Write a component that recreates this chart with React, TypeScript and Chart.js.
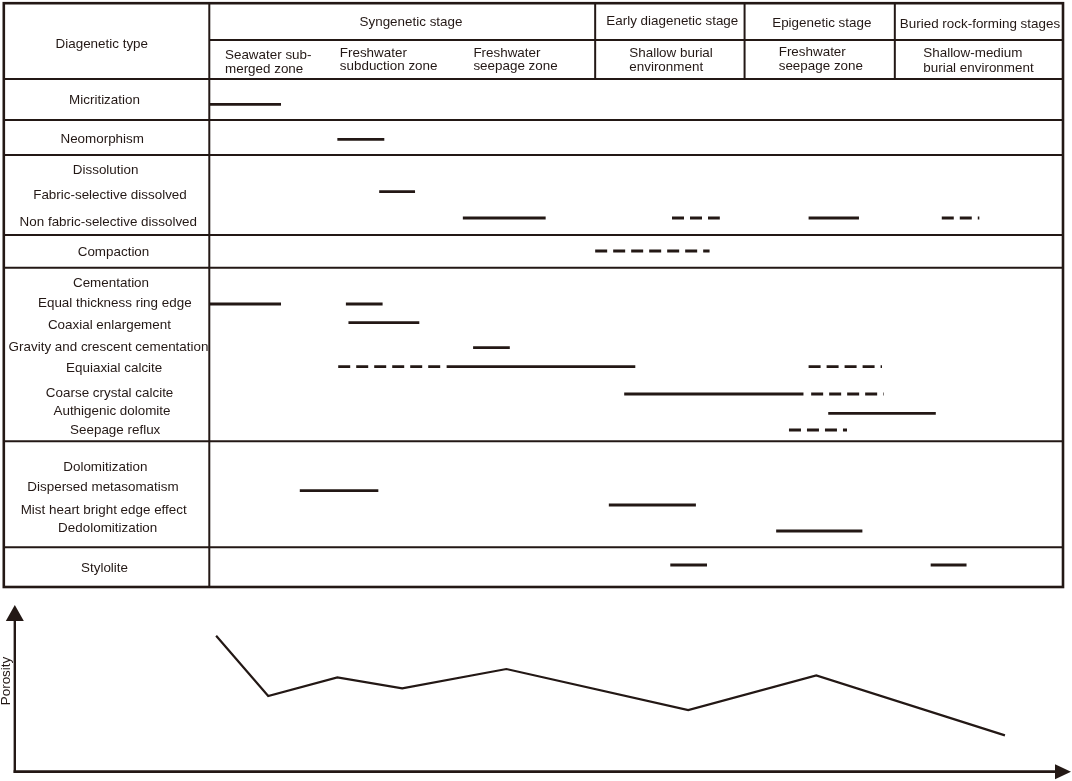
import React, { useEffect, useRef } from "react";
import { Chart, registerables } from "chart.js";

Chart.register(...registerables);

const INK = "#231815";
const FONT = '12.6px "Liberation Sans", Arial, sans-serif';
const TEXT_SX = 1.065;

// ---- Data (timeline units 0–100 across the stage columns) ----
const stageNames = ["Syngenetic stage", "Early diagenetic stage", "Epigenetic stage", "Buried rock-forming stages"];
const stageBounds = [0, 45.2, 62.7, 80.3, 100];
const zoneNames = [
  ["Seawater sub-", "merged zone"],
  ["Freshwater", "subduction zone"],
  ["Freshwater", "seepage zone"],
  ["Shallow burial", "environment"],
  ["Freshwater", "seepage zone"],
  ["Shallow-medium", "burial environment"],
];
const rowLabels = [
  "Micritization", "Neomorphism", "Dissolution", "Fabric-selective dissolved",
  "Non fabric-selective dissolved", "Compaction", "Cementation", "Equal thickness ring edge",
  "Coaxial enlargement", "Gravity and crescent cementation", "Equiaxial calcite",
  "Coarse crystal calcite", "Authigenic dolomite", "Seepage reflux", "Dolomitization",
  "Dispersed metasomatism", "Mist heart bright edge effect", "Dedolomitization", "Stylolite",
];
const processNames = [
  "Micritization", "Neomorphism", "Fabric-selective dissolved", "Non fabric-selective dissolved",
  "Compaction", "Equal thickness ring edge", "Coaxial enlargement", "Gravity and crescent cementation",
  "Equiaxial calcite", "Coarse crystal calcite", "Authigenic dolomite", "Seepage reflux",
  "Dispersed metasomatism", "Mist heart bright edge effect", "Dedolomitization", "Stylolite",
];
const segProcess = [0, 1, 2, 3, 3, 3, 3, 4, 5, 5, 6, 7, 8, 8, 8, 9, 9, 10, 11, 12, 13, 14, 15, 15];
const segStart = [0, 15.0, 19.9, 29.7, 54.2, 70.2, 85.8, 45.2, 0, 16.0, 16.3, 30.9, 15.1, 27.8, 70.2, 48.6, 70.5, 72.5, 67.9, 10.6, 46.8, 66.4, 54.0, 84.5];
const segEnd = [8.4, 20.5, 24.1, 39.4, 59.8, 76.1, 90.2, 58.6, 8.4, 20.3, 24.6, 35.2, 27.6, 49.9, 78.8, 69.6, 79.0, 85.1, 74.7, 19.8, 57.0, 76.5, 58.3, 88.7];
const segDashed = [0, 0, 0, 0, 1, 0, 1, 1, 0, 0, 0, 0, 1, 0, 1, 0, 1, 0, 1, 0, 0, 0, 0, 0];

const porosityX = [0.8, 6.9, 15.0, 22.6, 34.8, 56.1, 71.1, 93.2];
const porosityY = [8.16, 4.54, 5.66, 5.0, 6.16, 3.7, 5.78, 2.18];

// ---- Layout (pixels) ----
const PAD_LEFT = 209.3;
const PAD_RIGHT = 9;
const TABLE_H = 590;
const processLineY = [104.3, 139.3, 191.7, 218, 251, 304, 322.7, 347.7, 366.7, 394, 413.3, 430, 490.7, 505, 531, 565];
const rowLabelX = [104.5, 102.2, 105.6, 110, 108.3, 113.5, 111, 114.8, 109.4, 108.5, 114.2, 109.6, 112, 115.2, 105.4, 103, 103.7, 107.7, 104.5];
const rowLabelY = [100.5, 139.5, 170.7, 195.7, 222.3, 252.7, 284, 304, 326, 347.7, 369, 393.3, 411.7, 430.3, 467.7, 487.3, 510.3, 529, 569];
const stageLabelX = [411, 672.3, 821.8, 980];
const stageLabelY = [22.5, 21.7, 24, 25];
const zoneLabelX = [225, 339.8, 473.4, 629.3, 778.7, 923.3];
const zoneLabelY = [[55.8, 69.7], [53.3, 66.7], [53.3, 66.7], [54, 68], [52.7, 66.7], [54, 68.3]];
const TABLE_TOP = 3.2;
const TABLE_LEFT = 3.8;
const TABLE_BOTTOM = 587;
const HEADER_MID = 40;
const HEADER_BOTTOM = 79;
const rowBounds = [120, 155, 235, 267.7, 441.3, 547.3];

function drawText(ctx: CanvasRenderingContext2D, text: string, x: number, y: number) {
  ctx.save();
  ctx.translate(x, y);
  ctx.scale(TEXT_SX, 1);
  ctx.fillText(text, 0, 0);
  ctx.restore();
}

export default function App() {
  const topRef = useRef<HTMLCanvasElement>(null);
  const botRef = useRef<HTMLCanvasElement>(null);

  useEffect(() => {
    const tableGrid = {
      id: "tableGrid",
      afterDraw(chart: any) {
        const ctx = chart.ctx as CanvasRenderingContext2D;
        const xs = chart.scales.x;
        const left = xs.getPixelForValue(0);
        const right = xs.getPixelForValue(100);
        ctx.save();
        ctx.strokeStyle = INK;
        ctx.lineCap = "butt";
        ctx.lineWidth = 2;
        const hline = (y: number, x1: number, x2: number) => {
          ctx.beginPath(); ctx.moveTo(x1, y); ctx.lineTo(x2, y); ctx.stroke();
        };
        const vline = (x: number, y1: number, y2: number) => {
          ctx.beginPath(); ctx.moveTo(x, y1); ctx.lineTo(x, y2); ctx.stroke();
        };
        hline(HEADER_MID, left, right);
        hline(HEADER_BOTTOM, TABLE_LEFT, right);
        rowBounds.forEach((y) => hline(y, TABLE_LEFT, right));
        vline(left, TABLE_TOP, TABLE_BOTTOM);
        for (let i = 1; i < stageBounds.length - 1; i++) {
          vline(xs.getPixelForValue(stageBounds[i]), TABLE_TOP, HEADER_BOTTOM);
        }
        ctx.lineWidth = 2.6;
        ctx.strokeRect(TABLE_LEFT, TABLE_TOP, right - TABLE_LEFT, TABLE_BOTTOM - TABLE_TOP);

        ctx.fillStyle = INK;
        ctx.font = FONT;
        ctx.textBaseline = "middle";
        ctx.textAlign = "center";
        drawText(ctx, "Diagenetic type", 101.8, 44.5);
        stageNames.forEach((s, i) => drawText(ctx, s, stageLabelX[i], stageLabelY[i]));
        rowLabels.forEach((s, i) => drawText(ctx, s, rowLabelX[i], rowLabelY[i]));
        ctx.textAlign = "left";
        zoneNames.forEach((lines, i) => {
          lines.forEach((t, j) => drawText(ctx, t, zoneLabelX[i], zoneLabelY[i][j]));
        });
        ctx.restore();
      },
    };

    const porosityAxes = {
      id: "porosityAxes",
      afterDraw(chart: any) {
        const ctx = chart.ctx as CanvasRenderingContext2D;
        const { top, bottom } = chart.chartArea;
        const x0 = 14.8;
        ctx.save();
        ctx.strokeStyle = INK;
        ctx.fillStyle = INK;
        ctx.lineWidth = 2.4;
        ctx.beginPath();
        ctx.moveTo(x0, bottom + 1.2);
        ctx.lineTo(x0, top + 12);
        ctx.stroke();
        ctx.beginPath();
        ctx.moveTo(x0, top);
        ctx.lineTo(x0 - 9, top + 16);
        ctx.lineTo(x0 + 9, top + 16);
        ctx.closePath();
        ctx.fill();
        ctx.lineWidth = 2.8;
        ctx.beginPath();
        ctx.moveTo(x0 - 1.2, bottom);
        ctx.lineTo(1058, bottom);
        ctx.stroke();
        ctx.beginPath();
        ctx.moveTo(1071, bottom);
        ctx.lineTo(1055, bottom - 7.5);
        ctx.lineTo(1055, bottom + 7.5);
        ctx.closePath();
        ctx.fill();
        ctx.font = FONT;
        ctx.textAlign = "center";
        ctx.textBaseline = "middle";
        ctx.translate(7, 91);
        ctx.rotate(-Math.PI / 2);
        drawText(ctx, "Porosity", 0, 0);
        ctx.restore();
      },
    };

    const c1 = new Chart(topRef.current as HTMLCanvasElement, {
      type: "line",
      data: {
        datasets: segProcess.map((p, i) => ({
          label: processNames[p],
          data: [
            { x: segStart[i], y: processLineY[p] },
            { x: segEnd[i], y: processLineY[p] },
          ],
          borderColor: INK,
          borderWidth: 2.8,
          borderDash: segDashed[i] ? [12, 6] : [],
          borderCapStyle: "butt",
          pointRadius: 0,
          fill: false,
          tension: 0,
        })),
      },
      options: {
        animation: false,
        responsive: false,
        devicePixelRatio: 1,
        events: [],
        layout: { padding: { left: PAD_LEFT, right: PAD_RIGHT, top: 0, bottom: 0 } },
        plugins: { legend: { display: false }, tooltip: { enabled: false } },
        scales: {
          x: { type: "linear", min: 0, max: 100, display: false },
          y: { type: "linear", min: 0, max: TABLE_H, reverse: true, display: false },
        },
      },
      plugins: [tableGrid],
    } as any);

    const c2 = new Chart(botRef.current as HTMLCanvasElement, {
      type: "line",
      data: {
        datasets: [
          {
            label: "Porosity",
            data: porosityX.map((x, i) => ({ x, y: porosityY[i] })),
            borderColor: INK,
            borderWidth: 2.2,
            pointRadius: 0,
            fill: false,
            tension: 0,
          },
        ],
      },
      options: {
        animation: false,
        responsive: false,
        devicePixelRatio: 1,
        events: [],
        layout: { padding: { left: PAD_LEFT, right: PAD_RIGHT, top: 15, bottom: 9.3 } },
        plugins: { legend: { display: false }, tooltip: { enabled: false } },
        scales: {
          x: { type: "linear", min: 0, max: 100, display: false },
          y: { type: "linear", min: 0, max: 10, display: false },
        },
      },
      plugins: [porosityAxes],
    } as any);

    return () => {
      c1.destroy();
      c2.destroy();
    };
  }, []);

  return (
    <div style={{ position: "absolute", left: 0, top: 0, width: 1072, height: 781, background: "#fff" }}>
      <canvas ref={topRef} width={1072} height={TABLE_H} style={{ position: "absolute", left: 0, top: 0, display: "block" }} />
      <canvas ref={botRef} width={1072} height={191} style={{ position: "absolute", left: 0, top: TABLE_H, display: "block" }} />
    </div>
  );
}
